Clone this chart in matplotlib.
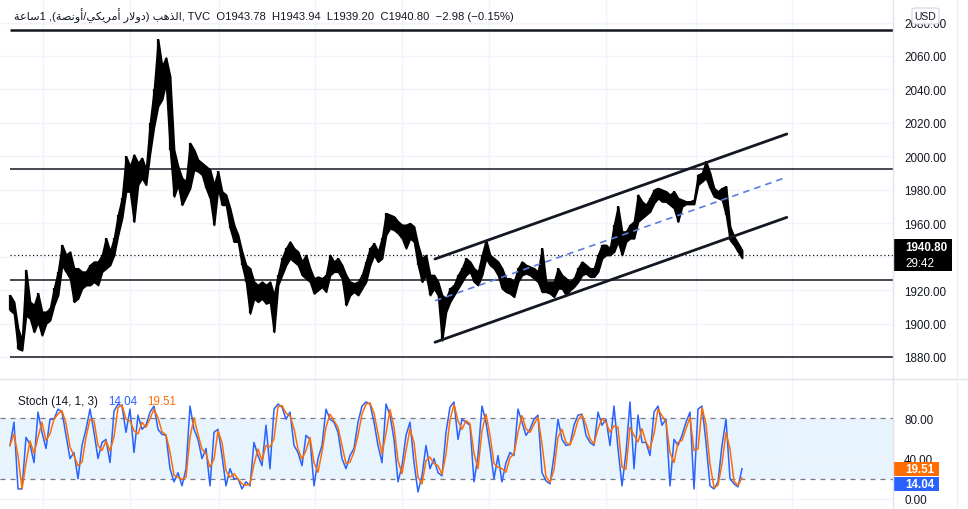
import numpy as np
import pandas as pd
import matplotlib
matplotlib.use("Agg")
import matplotlib.pyplot as plt
from matplotlib.patches import Rectangle, FancyBboxPatch
from matplotlib.lines import Line2D

plt.rcParams['font.family'] = ['Liberation Sans', 'DejaVu Sans']

# ---------------- data ----------------
price_hi = [1917, 1913, 1897, 1890, 1932, 1913, 1911, 1918, 1907, 1907, 1909, 1921, 1931, 1947, 1941,
            1943, 1933, 1933, 1931, 1931, 1935, 1937, 1937, 1941, 1951, 1943, 1951, 1965, 1975, 2000,
            1994, 2001, 1996, 1999, 1992, 2020, 2040, 2070, 2054, 2059, 2048, 2004, 1994, 1987, 1985,
            2008, 2004, 1998, 1996, 1994, 1992, 1983, 1991, 1979, 1977, 1969, 1959, 1953, 1943, 1935,
            1933, 1925, 1923, 1925, 1923, 1925, 1917, 1929, 1939, 1945, 1949, 1945, 1943, 1937, 1941,
            1933, 1927, 1928, 1927, 1929, 1941, 1937, 1939, 1935, 1929, 1925, 1924, 1925, 1929, 1937,
            1945, 1948, 1943, 1951, 1966, 1965, 1964, 1961, 1959, 1959, 1960, 1958, 1947, 1939, 1941,
            1929, 1929, 1925, 1917, 1915, 1921, 1923, 1929, 1933, 1939, 1937, 1933, 1931, 1941, 1950,
            1941, 1939, 1937,
            1933, 1927, 1927, 1925, 1933, 1937, 1935, 1934, 1933, 1931, 1945, 1925, 1925, 1925, 1933,
            1929, 1927, 1925, 1927, 1933, 1937, 1935, 1933, 1933, 1941, 1947, 1947, 1945, 1959, 1970,
            1955, 1955, 1959, 1961, 1977, 1973, 1971, 1975, 1980, 1981, 1980, 1979, 1977, 1979, 1975,
            1974, 1973, 1973, 1974, 1989, 1990, 1997, 1990, 1981, 1979, 1981, 1982, 1958, 1952, 1948,
            1943.94]
price_lo = [1908, 1906, 1885, 1884, 1905, 1903, 1895, 1901, 1893, 1900, 1902, 1911, 1917, 1935, 1931,
            1927, 1913, 1915, 1921, 1923, 1923, 1925, 1923, 1931, 1933, 1935, 1941, 1953, 1963, 1979,
            1979, 1961, 1983, 1987, 1983, 2002, 2018, 2030, 2034, 2044, 2004, 1976, 1983, 1971, 1976,
            1981, 1992, 1991, 1989, 1981, 1975, 1959, 1981, 1971, 1971, 1957, 1949, 1949, 1935, 1925,
            1906, 1915, 1913, 1915, 1912, 1913, 1895, 1923, 1929, 1935, 1939, 1937, 1935, 1929, 1927,
            1925, 1918, 1920, 1922, 1919, 1929, 1931, 1931, 1927, 1911, 1917, 1919, 1917, 1921, 1925,
            1935, 1941, 1937, 1939, 1953, 1957, 1956, 1954, 1951, 1945, 1951, 1949, 1935, 1925, 1929,
            1917, 1921, 1917, 1890, 1907, 1913, 1917, 1921, 1925, 1929, 1931, 1925, 1923, 1929, 1939,
            1935, 1933, 1929,
            1921, 1919, 1918, 1916, 1925, 1929, 1930, 1929, 1927, 1925, 1919, 1919, 1918, 1916, 1921,
            1921, 1917, 1920, 1922, 1925, 1929, 1930, 1928, 1928, 1931, 1939, 1941, 1941, 1943, 1949,
            1941, 1949, 1951, 1951, 1961, 1963, 1965, 1967, 1972, 1975, 1973, 1973, 1971, 1969, 1961,
            1970, 1971.5, 1971.5, 1971.5, 1983, 1985, 1987, 1981, 1976, 1975, 1974, 1965, 1950, 1947, 1943,
            1939.20]

stoch_k = [53, 76, 10, 10, 61, 54, 36, 86, 66, 50, 79, 79, 89, 86, 63, 40, 46, 20, 53, 69,
           89, 66, 40, 56, 59, 36, 87, 94, 92, 66, 89, 46, 83, 69, 73, 86, 92, 69, 64, 63,
           30, 17, 26, 13, 30, 92, 69, 59, 40, 50, 13, 66, 69, 43, 13, 30, 20, 20, 10, 17,
           13, 56, 43, 33, 73, 30, 89, 94, 91, 79, 86, 53, 46,
           33, 63, 59, 13, 40, 53, 89, 79, 76, 66, 40, 30, 43, 50, 76, 92, 96, 94, 76, 53,
           36, 94, 83, 59, 17, 33, 63, 76, 36, 7, 23, 53, 30, 40, 26, 23, 66, 91, 96, 59,
           79, 76, 73, 17, 43, 92, 76, 50, 20, 43, 17, 36, 46, 43, 89, 76, 63, 69, 79, 83,
           26, 18, 15, 43, 79, 59, 53, 54, 73, 83, 84, 63, 56,
           53, 86, 73, 79, 53, 92, 50, 13, 46, 96, 30, 83, 56, 56, 43, 86, 92, 73, 79, 13,
           59, 53, 63, 76, 86, 10, 89, 92, 56, 13, 10, 17, 53, 79, 20, 15, 12, 30]

h_levels = [2075.8, 1992.2, 1926.0, 1880.0]
last_price = 1940.80
channel_x = [106.25, 194.2]
channel_upper = [1938.6, 2013.35]
channel_lower = [1888.8, 1963.5]
channel_mid = [1913.6, 1987.5]

price_ticks = [1880, 1900, 1920, 1940, 1960, 1980, 2000, 2020, 2040, 2060, 2080]
stoch_ticks = [0, 40, 80]
vgrid = [8.25, 30, 52.25, 76.25, 98, 119.75, 149, 171.5, 195.5]

title_ar = "الذهب (دولار أمريكي/أونصة), 1ساعة"
title_rest = ", TVC  O1943.78  H1943.94  L1939.20  C1940.80  \u22122.98 (\u22120.15%)"

# ---------------- simple Arabic shaping for display ----------------
FORMS = {
    'ا': ('\uFE8D', '\uFE8E', None, None), 'أ': ('\uFE83', '\uFE84', None, None),
    'ب': ('\uFE8F', '\uFE90', '\uFE91', '\uFE92'), 'ة': ('\uFE93', '\uFE94', None, None),
    'د': ('\uFEA9', '\uFEAA', None, None), 'ذ': ('\uFEAB', '\uFEAC', None, None),
    'ر': ('\uFEAD', '\uFEAE', None, None), 'س': ('\uFEB1', '\uFEB2', '\uFEB3', '\uFEB4'),
    'ص': ('\uFEB9', '\uFEBA', '\uFEBB', '\uFEBC'), 'ع': ('\uFEC9', '\uFECA', '\uFECB', '\uFECC'),
    'ك': ('\uFED9', '\uFEDA', '\uFEDB', '\uFEDC'), 'ل': ('\uFEDD', '\uFEDE', '\uFEDF', '\uFEE0'),
    'م': ('\uFEE1', '\uFEE2', '\uFEE3', '\uFEE4'), 'ن': ('\uFEE5', '\uFEE6', '\uFEE7', '\uFEE8'),
    'ه': ('\uFEE9', '\uFEEA', '\uFEEB', '\uFEEC'), 'و': ('\uFEED', '\uFEEE', None, None),
    'ي': ('\uFEF1', '\uFEF2', '\uFEF3', '\uFEF4'),
}
LAM_ALEF = {'ا': ('\uFEFB', '\uFEFC'), 'أ': ('\uFEF7', '\uFEF8')}


def shape_rtl(s):
    def dual(c):
        return c in FORMS and FORMS[c][2] is not None
    out = []
    i = 0
    while i < len(s):
        c = s[i]
        if c not in FORMS:
            out.append(c)
            i += 1
            continue
        prev = s[i - 1] if i > 0 else ''
        jp = dual(prev)
        if c == 'ل' and i + 1 < len(s) and s[i + 1] in LAM_ALEF:
            out.append(LAM_ALEF[s[i + 1]][1 if jp else 0])
            i += 2
            continue
        nxt = s[i + 1] if i + 1 < len(s) else ''
        jn = dual(c) and nxt in FORMS
        iso, fin, ini, med = FORMS[c]
        out.append(med if (jp and jn) else fin if jp else ini if jn else iso)
        i += 1
    vis = ''.join(out)[::-1]
    return vis.translate(str.maketrans('()', ')('))


# ---------------- figure ----------------
W, H = 968, 510
fig = plt.figure(figsize=(W / 100, H / 100), dpi=100)
fig.patch.set_facecolor('white')


def fx(px):
    return px / W


def fy(py):
    return 1 - py / H


TXT = '#131722'
GRID = '#f0f3fa'
FS = 8.4

idx = np.arange(len(price_hi))
hi = np.array(price_hi, dtype=float)
lo = np.array(price_lo, dtype=float)
XMIN, XMAX = -2.5, 220.75


def fmt_price(v, pos):
    return '' if abs(v - 1940) < 1e-6 else f'{v:.2f}'


# main price panel
ax = fig.add_axes([0, fy(379), fx(893), fy(0) - fy(379)])
ax.set_xlim(XMIN, XMAX)
ax.set_ylim(1867.42, 2094.09)
for s in ax.spines.values():
    s.set_visible(False)
ax.set_yticks(price_ticks)
ax.set_xticks(vgrid)
ax.grid(True, color=GRID, lw=1.0, zorder=0)
ax.yaxis.tick_right()
ax.yaxis.set_major_formatter(matplotlib.ticker.FuncFormatter(fmt_price))
ax.tick_params(axis='y', length=0, pad=8, labelsize=FS, labelcolor=TXT)
ax.tick_params(axis='x', length=0, labelbottom=False)

# price range drawn as a dense band of thin candles
ax.fill_between(idx, lo, hi, color='#000000', lw=1.3, edgecolor='#000000', zorder=3)
ax.vlines(idx, lo, hi, color='#000000', lw=1.6, zorder=3)

for lv in h_levels:
    ax.hlines(lv, 0, XMAX, color=TXT, lw=1.8 if lv == h_levels[0] else 1.1, zorder=2)
ax.hlines(last_price, 0, XMAX, color=TXT, lw=0.9, linestyles=(0, (1, 2)), zorder=2)

ax.plot(channel_x, channel_upper, color='#131722', lw=2.0, solid_capstyle='round', zorder=4)
ax.plot(channel_x, channel_lower, color='#131722', lw=2.0, solid_capstyle='round', zorder=4)
ax.plot(channel_x, channel_mid, color='#5b7fdb', lw=1.2, dashes=(4, 3), zorder=4)

# stochastic panel (%D is the indicator's moving average of %K)
k = pd.Series(stoch_k, dtype=float)
d = k.rolling(2, min_periods=1).mean()

sx = fig.add_axes([0, 0, fx(893), fy(381)])
sx.set_xlim(XMIN, XMAX)
sx.set_ylim(-9.9, 117.8)
for s in sx.spines.values():
    s.set_visible(False)
sx.set_yticks(stoch_ticks)
sx.set_xticks(vgrid)
sx.grid(True, color=GRID, lw=1.0, zorder=0)
sx.yaxis.tick_right()
sx.yaxis.set_major_formatter(matplotlib.ticker.StrMethodFormatter('{x:.2f}'))
sx.tick_params(axis='y', length=0, pad=8, labelsize=FS, labelcolor=TXT)
sx.tick_params(axis='x', length=0, labelbottom=False)
sx.axhspan(20, 80, color='#2196f3', alpha=0.1, lw=0, zorder=1)
sx.axhline(80, color='#787b86', lw=0.9, dashes=(4, 4), zorder=2)
sx.axhline(20, color='#787b86', lw=0.9, dashes=(4, 4), zorder=2)
sx.plot(idx, k, color='#2962ff', lw=1.1, zorder=3)
sx.plot(idx, d, color='#ff6d00', lw=1.1, zorder=4)

# separators
fig.add_artist(Line2D([0, 1], [fy(380), fy(380)], color='#e0e3eb', lw=1.0))
fig.add_artist(Line2D([fx(893), fx(893)], [0, 1], color='#e0e3eb', lw=1.0))
fig.add_artist(Line2D([fx(957), fx(957)], [0, 1], color='#eef0f3', lw=1.0))

# title
fig.text(fx(14), fy(16), shape_rtl(title_ar) + title_rest, ha='left', va='center',
         fontsize=8.1, color=TXT)

# stoch legend
fig.text(fx(18), fy(402), "Stoch (14, 1, 3)", ha='left', va='center', fontsize=FS, color=TXT)
fig.text(fx(108), fy(402), "14.04", ha='left', va='center', fontsize=FS, color='#2962ff')
fig.text(fx(147), fy(402), "19.51", ha='left', va='center', fontsize=FS, color='#ff6d00')

# price label box
fig.add_artist(Rectangle((fx(894), fy(272)), fx(58), fy(240) - fy(272), facecolor='#000000',
                         edgecolor='none', transform=fig.transFigure))
fig.text(fx(905), fy(248), "1940.80", ha='left', va='center', fontsize=FS, color='white',
         weight='bold')
fig.text(fx(905), fy(264), "29:42", ha='left', va='center', fontsize=FS, color='white')

# stoch label boxes
fig.add_artist(Rectangle((fx(894), fy(477)), fx(45), fy(463) - fy(477), facecolor='#ff6d00',
                         edgecolor='none', transform=fig.transFigure))
fig.text(fx(905), fy(470), "19.51", ha='left', va='center', fontsize=FS, color='white',
         weight='bold')
fig.add_artist(Rectangle((fx(894), fy(492)), fx(45), fy(478) - fy(492), facecolor='#2962ff',
                         edgecolor='none', transform=fig.transFigure))
fig.text(fx(905), fy(485), "14.04", ha='left', va='center', fontsize=FS, color='white',
         weight='bold')

# USD box
fig.add_artist(FancyBboxPatch((fx(912), fy(25)), fx(27), fy(9) - fy(25),
                              boxstyle='round,pad=0,rounding_size=0.004', facecolor='white',
                              edgecolor='#d1d4dc', lw=0.8, transform=fig.transFigure, zorder=10))
fig.text(fx(925.5), fy(17), "USD", ha='center', va='center', fontsize=7.5, color=TXT, zorder=11)

fig.savefig('out.png', dpi=100, facecolor='white')
